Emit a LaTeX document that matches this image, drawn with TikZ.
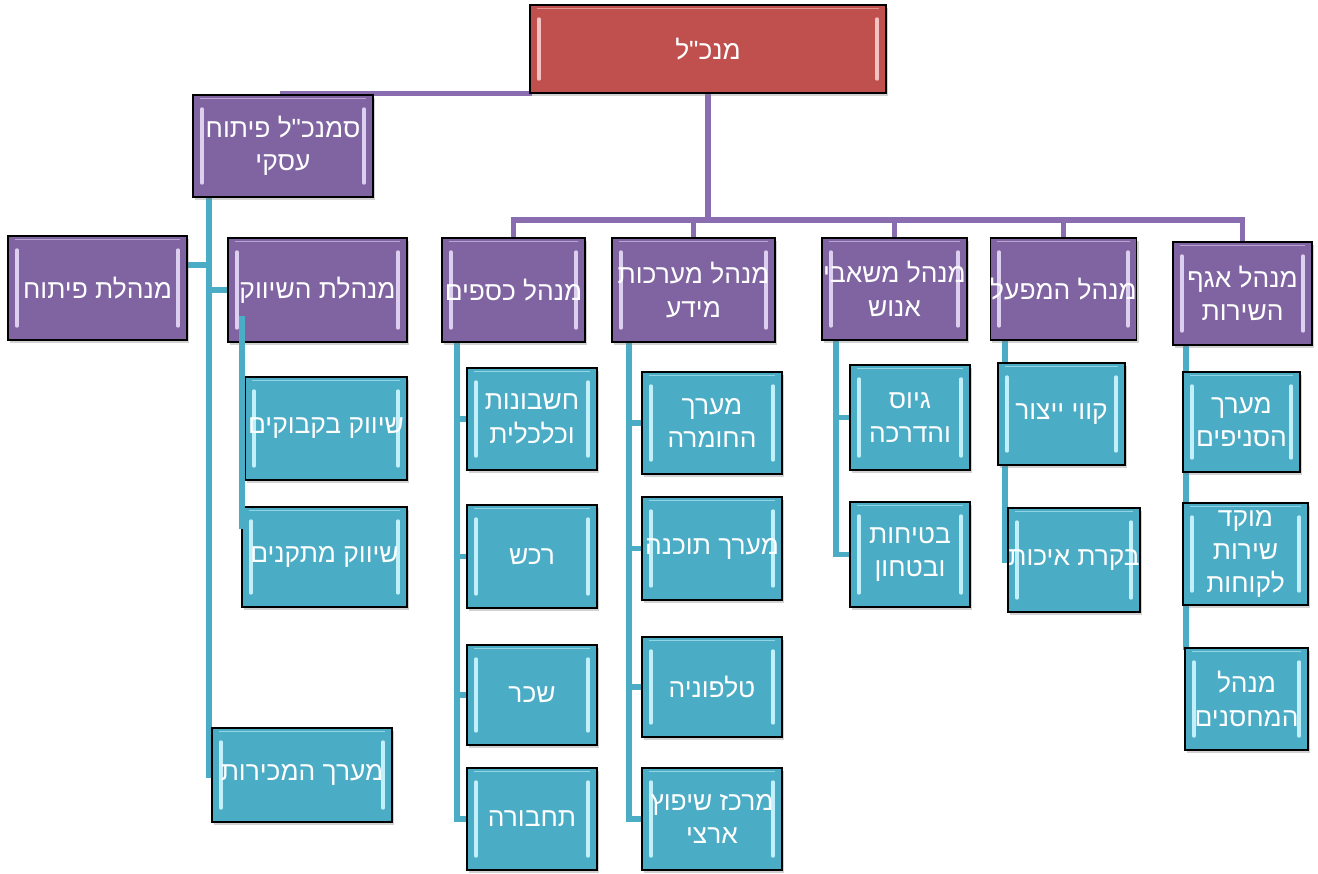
\documentclass[tikz,border=0pt]{standalone}
\usepackage{fontspec}
\setmainfont{Liberation Sans}
\newfontfamily\hebfont[Script=Hebrew]{Liberation Sans}
\TeXXeTstate=1
\usepackage{tikz}
\usetikzlibrary{shadows,backgrounds}
\newcommand{\rl}[1]{\beginR#1\endR}
\definecolor{boxred}{HTML}{C0504D}
\definecolor{boxredhi}{HTML}{F4C2C0}
\definecolor{boxpurple}{HTML}{8064A2}
\definecolor{boxpurplehi}{HTML}{DCCFF0}
\definecolor{boxteal}{HTML}{4BACC6}
\definecolor{boxtealhi}{HTML}{C2F0FA}
\definecolor{linepurple}{HTML}{8A6DB0}
\tikzset{
  bevel/.style={path picture={
      \draw[#1,line width=2pt,line cap=round]
        ([xshift=5pt,yshift=-8pt]path picture bounding box.north west) -- ([xshift=5pt,yshift=8pt]path picture bounding box.south west)
        ([xshift=-5pt,yshift=-8pt]path picture bounding box.north east) -- ([xshift=-5pt,yshift=8pt]path picture bounding box.south east);
      \draw[#1,line width=0.8pt,opacity=0.6]
        ([xshift=4pt,yshift=-2pt]path picture bounding box.north west) -- ([xshift=-4pt,yshift=-2pt]path picture bounding box.north east);
    }},
  boxsize/.style 2 args={minimum width=#1cm,minimum height=#2cm},
  orgbox/.style={draw=black,line width=0.8pt,text=white,align=center,inner sep=0pt,
    font=\hebfont\fontsize{15}{19}\selectfont,
    drop shadow={shadow xshift=1.2pt,shadow yshift=-1.5pt,opacity=0.35}},
  ceobox/.style={orgbox,fill=boxred,bevel=boxredhi},
  mgrbox/.style={orgbox,fill=boxpurple,bevel=boxpurplehi},
  unitbox/.style={orgbox,fill=boxteal,bevel=boxtealhi},
  mgrline/.style={draw=linepurple,line width=3.2pt,line cap=rect},
  unitline/.style={draw=boxteal,line width=3.4pt,line cap=rect}
}

\begin{document}
\begin{tikzpicture}[x=0.02cm,y=-0.02cm]
  \useasboundingbox (0,0) rectangle (1318,874);

  \node[ceobox,boxsize={7.12}{1.76}] (ceo) at (708,49) {\rl{מנכ"ל}};
  \node[mgrbox,boxsize={3.6}{2.04}] (dep) at (283,146) {\rl{סמנכ"ל פיתוח}\\\rl{עסקי}};

  \node[mgrbox,boxsize={3.58}{2.08}] (dev) at (97.5,288) {\rl{מנהלת פיתוח}};
  \node[mgrbox,boxsize={3.58}{2.08}] (mkt) at (317.5,290) {\rl{מנהלת השיווק}};
  \node[mgrbox,boxsize={2.86}{2.08}] (fin) at (513.5,290) {\rl{מנהל כספים}};
  \node[mgrbox,boxsize={3.26}{2.08}] (info) at (693.5,290) {\rl{מנהל מערכות}\\\rl{מידע}};
  \node[mgrbox,boxsize={2.9}{2.04}] (hr) at (894.5,289) {\rl{מנהל משאבי}\\\rl{אנוש}};
  \node[mgrbox,boxsize={2.86}{2.04}] (fac) at (1063.5,289) {\rl{מנהל המפעל}};
  \node[mgrbox,boxsize={2.78}{2.06}] (srv) at (1242.5,293.5) {\rl{מנהל אגף}\\\rl{השירות}};

  \node[unitbox,boxsize={3.24}{2.06}] (bot) at (326,428.5) {\rl{שיווק בקבוקים}};
  \node[unitbox,boxsize={3.3}{2.0}] (fix) at (324.5,557) {\rl{שיווק מתקנים}};
  \node[unitbox,boxsize={3.6}{1.88}] (sales) at (302,775) {\rl{מערך המכירות}};

  \node[unitbox,boxsize={2.6}{2.04}] (acc) at (532,419) {\rl{חשבונות}\\\rl{וכלכלית}};
  \node[unitbox,boxsize={2.6}{2.06}] (pur) at (532,556.5) {\rl{רכש}};
  \node[unitbox,boxsize={2.6}{2.0}] (pay) at (532,695) {\rl{שכר}};
  \node[unitbox,boxsize={2.6}{2.04}] (trn) at (532,819) {\rl{תחבורה}};

  \node[unitbox,boxsize={2.8}{2.04}] (hw) at (712,423) {\rl{מערך}\\\rl{החומרה}};
  \node[unitbox,boxsize={2.8}{2.06}] (sw) at (712,548.5) {\rl{מערך תוכנה}};
  \node[unitbox,boxsize={2.8}{2.0}] (tel) at (712,687) {\rl{טלפוניה}};
  \node[unitbox,boxsize={2.8}{2.04}] (ren) at (712,819) {\rl{מרכז שיפוץ}\\\rl{ארצי}};

  \node[unitbox,boxsize={2.4}{2.1}] (trg) at (910,417.5) {\rl{גיוס}\\\rl{והדרכה}};
  \node[unitbox,boxsize={2.4}{2.1}] (saf) at (910,554.5) {\rl{בטיחות}\\\rl{ובטחון}};

  \node[unitbox,boxsize={2.54}{2.04}] (prod) at (1061.5,414) {\rl{קווי ייצור}};
  \node[unitbox,boxsize={2.64}{2.08}] (qc) at (1074,560) {\rl{בקרת איכות}};

  \node[unitbox,boxsize={2.34}{2.0}] (br) at (1241.5,422) {\rl{מערך}\\\rl{הסניפים}};
  \node[unitbox,boxsize={2.5}{2.04}] (call) at (1245.5,554) {\rl{מוקד}\\\rl{שירות}\\\rl{לקוחות}};
  \node[unitbox,boxsize={2.46}{2.04}] (wh) at (1246.5,699) {\rl{מנהל}\\\rl{המחסנים}};

  \begin{scope}[on background layer]
    \fill[white] (0,0) rectangle (1318,874);
    \draw[mgrline] (ceo.south west) -| (dep.north);
    \coordinate (bus) at (708,220);
    \draw[mgrline] (ceo) -- (bus);
    \foreach \d in {fin,info,hr,fac,srv}
      \draw[mgrline] (bus) -| (\d.north);

    \coordinate (trunk) at ([xshift=0.34cm]dep.south west);
    \draw[unitline] (trunk) |- (sales.west);
    \draw[unitline] ([yshift=0.46cm]dev.east) -- ([yshift=0.46cm]dev.east -| trunk);
    \draw[unitline] (mkt.west) -- (mkt.west -| trunk);

    \coordinate (fintrunk) at ([xshift=0.32cm]fin.south west);
    \draw[unitline] (fintrunk) |- (trn.west);
    \foreach \c in {acc,pur,pay}
      \draw[unitline] (\c.west) -- (\c.west -| fintrunk);

    \coordinate (infotrunk) at ([xshift=0.36cm]info.south west);
    \draw[unitline] (infotrunk) |- (ren.west);
    \foreach \c in {hw,sw,tel}
      \draw[unitline] (\c.west) -- (\c.west -| infotrunk);

    \coordinate (hrtrunk) at ([xshift=0.3cm]hr.south west);
    \draw[unitline] (hrtrunk) |- (saf.west);
    \draw[unitline] (trg.west) -- (trg.west -| hrtrunk);

    \coordinate (factrunk) at ([xshift=0.3cm]fac.south west);
    \draw[unitline] (factrunk) |- (qc.west);

    \coordinate (srvtrunk) at ([xshift=0.28cm]srv.south west);
    \draw[unitline] (srvtrunk) -- (srvtrunk |- wh.north);
  \end{scope}

  \draw[unitline] ([xshift=0.3cm,yshift=0.48cm]mkt.south west) -- ++(0,-4.14cm);
\end{tikzpicture}
\end{document}
